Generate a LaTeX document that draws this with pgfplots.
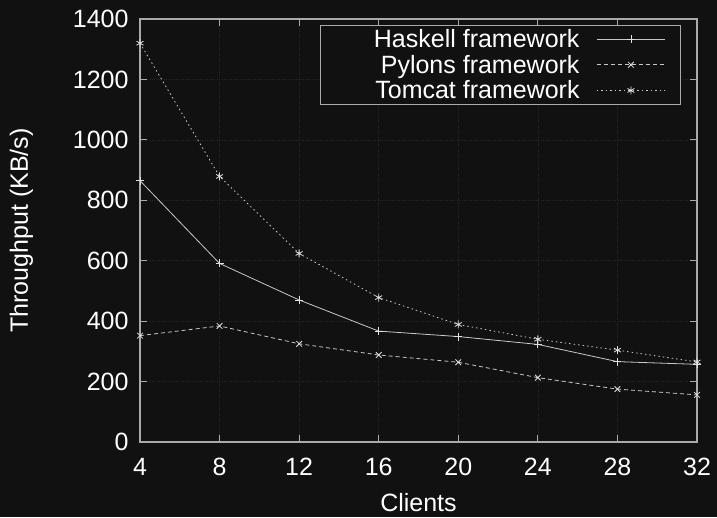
\documentclass[border=0pt]{standalone}
\usepackage{fontspec}
\setmainfont{Liberation Sans}
\usepackage{pgfplots}
\pgfplotsset{compat=1.18}
\definecolor{bg}{HTML}{111111}
\definecolor{fg}{HTML}{C8C8C8}
\definecolor{mk}{HTML}{E0E0E0}
\definecolor{ax}{HTML}{AAAAAA}
\definecolor{gridc}{HTML}{282828}
\begin{document}
\begin{tikzpicture}[x=1pt,y=1pt]
\fill[bg] (0,0) rectangle (717,517);
\begin{axis}[
  at={(140pt,75pt)}, anchor=south west,
  scale only axis, width=557pt, height=423pt,
  xmin=4, xmax=32, ymin=0, ymax=1400,
  xtick={4,8,...,32}, ytick={0,200,...,1400},
  tick align=inside, major tick length=7pt,
  axis line style={ax, line width=1.2pt},
  every tick/.style={ax, line width=1pt},
  grid=major, grid style={gridc, dotted, line width=0.6pt},
  /pgf/number format/assume math mode=true,
  /pgf/number format/1000 sep={},
  tick label style={font=\fontsize{25}{30}\selectfont, text=white},
  xticklabel style={yshift=-13pt},
  yticklabel style={xshift=-8pt},
  xlabel={Clients}, ylabel={Throughput (KB/s)},
  every axis x label/.style={at={(axis description cs:0.5,-0.1638)}, anchor=base, inner sep=0pt, font=\fontsize{25}{30}\selectfont, text=white},
  every axis y label/.style={at={(axis description cs:-0.2011,0.5)}, anchor=base, rotate=90, font=\fontsize{25}{30}\selectfont, text=white},
  legend plot pos=right,
  legend image code/.code={%
    \draw[#1] (15pt,0pt) -- (83pt,0pt);
    \draw[#1, solid] plot coordinates {(49pt,0pt)};
    \path (0pt,0pt) (96pt,0pt);},
  legend style={at={(0.971,0.986)}, anchor=north east, draw=ax, line width=1pt,
    fill=bg, text=white, font=\fontsize{25}{30}\selectfont,
    row sep=2pt, inner sep=2pt},
  legend cell align=right,
]
\addplot[fg, line width=0.8pt, mark size=4pt, mark options={solid, mk}, solid, mark=+] coordinates {
  (4,865) (8,591) (12,470) (16,367) (20,349) (24,323) (28,266) (32,257)};
\addlegendentry{\makebox[255pt][r]{Haskell framework}}
\addplot[fg, line width=0.8pt, mark size=4pt, mark options={solid, mk}, dash pattern=on 4pt off 3pt, mark=x] coordinates {
  (4,352) (8,384) (12,325) (16,288) (20,264) (24,213) (28,175) (32,156)};
\addlegendentry{\makebox[255pt][r]{Pylons framework}}
\addplot[fg, line width=0.8pt, mark size=4pt, mark options={solid, mk}, dash pattern=on 1.5pt off 3pt, mark=asterisk] coordinates {
  (4,1320) (8,879) (12,624) (16,478) (20,389) (24,340) (28,304) (32,265)};
\addlegendentry{\makebox[255pt][r]{Tomcat framework}}
\end{axis}
\end{tikzpicture}
\end{document}
